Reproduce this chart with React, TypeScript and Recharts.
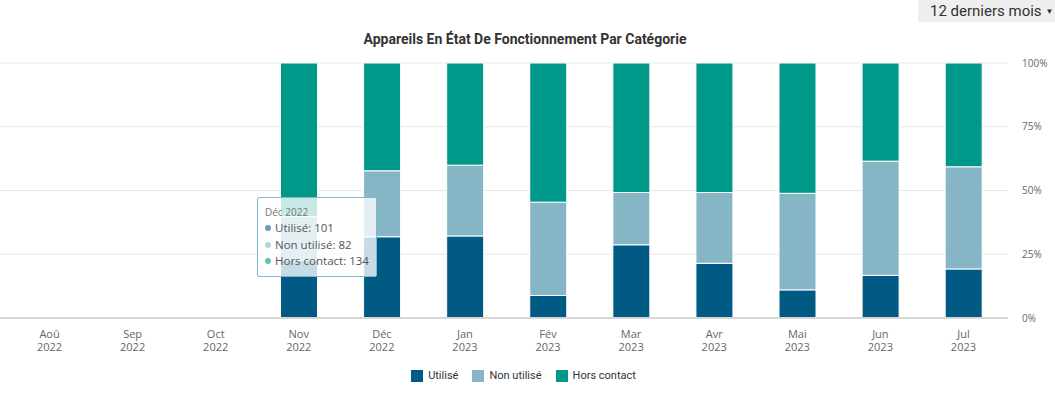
import { BarChart, Bar, XAxis, YAxis, CartesianGrid, Tooltip, Legend } from 'recharts'

const months = ['Aoû', 'Sep', 'Oct', 'Nov', 'Déc', 'Jan', 'Fév', 'Mar', 'Avr', 'Mai', 'Jun', 'Jul']
const years = ['2022', '2022', '2022', '2022', '2022', '2023', '2023', '2023', '2023', '2023', '2023', '2023']
const utilise = [null, null, null, 72, 101, 102, 28, 91, 68, 35, 53, 61]
const nonUtilise = [null, null, null, 54, 82, 88, 116, 65, 88, 120, 142, 127]
const horsContact = [null, null, null, 191, 134, 127, 173, 161, 161, 162, 122, 129]
const yTicks = [0, 0.25, 0.5, 0.75, 1]

const series = [
  { key: 'utilise', name: 'Utilisé', color: '#005a84' },
  { key: 'nonUtilise', name: 'Non utilisé', color: '#86b6c6' },
  { key: 'horsContact', name: 'Hors contact', color: '#009888' },
]

const data = months.map((m, i) => ({
  month: m,
  year: years[i],
  utilise: utilise[i],
  nonUtilise: nonUtilise[i],
  horsContact: horsContact[i],
}))

const axisFont = '"Open Sans", sans-serif'

const MonthTick = ({ x, y, payload }: any) => {
  const row = data[payload.index] || { month: payload.value, year: '' }
  return (
    <text x={x} y={y} textAnchor="middle" fill="#666" fontSize={11} fontFamily={axisFont}>
      <tspan x={x} dy={12}>{row.month}</tspan>
      <tspan x={x} dy={13}>{row.year}</tspan>
    </text>
  )
}

const CustomTooltip = ({ payload }: any) => {
  if (!payload || !payload.length) return null
  const row = payload[0].payload
  return (
    <div style={{
      width: 120,
      height: 80,
      boxSizing: 'border-box',
      background: 'rgba(255, 255, 255, 0.78)',
      border: '1px solid #7cb8cf',
      borderRadius: 2,
      padding: '7px 0 0 7px',
      fontFamily: axisFont,
      color: '#555',
      whiteSpace: 'nowrap',
    }}>
      <div style={{ fontSize: 10, lineHeight: '14px', color: '#777', marginBottom: 1 }}>{row.month} {row.year}</div>
      {series.map((s) => (
        <div key={s.key} style={{ fontSize: 11.5, lineHeight: '16.5px', display: 'flex', alignItems: 'center' }}>
          <span style={{ width: 6, height: 6, borderRadius: '50%', background: s.color, opacity: 0.6, marginRight: 4, flex: 'none' }} />
          {s.name}: {row[s.key]}
        </div>
      ))}
    </div>
  )
}

const LegendContent = () => (
  <div style={{ display: 'flex', justifyContent: 'center', gap: 14, fontFamily: 'Roboto, sans-serif', fontSize: 11, color: '#333', marginLeft: -8 }}>
    {series.map((s) => (
      <span key={s.key} style={{ display: 'flex', alignItems: 'center' }}>
        <span style={{ width: 12, height: 12, background: s.color, marginRight: 5, display: 'inline-block' }} />
        {s.name}
      </span>
    ))}
  </div>
)

export default function App() {
  return (
    <div style={{ position: 'absolute', left: 0, top: 0, width: 1055, height: 401, background: '#fff' }}>
      <div style={{
        position: 'absolute', right: 0, top: 0, width: 137, height: 22,
        background: '#efefef', fontFamily: 'Roboto, sans-serif', fontSize: 15, color: '#333',
        display: 'flex', alignItems: 'center', paddingLeft: 12, boxSizing: 'border-box', whiteSpace: 'nowrap',
      }}>
        12 derniers mois <span style={{ fontSize: 8, marginLeft: 4 }}>▼</span>
      </div>
      <div style={{
        position: 'absolute', left: 0, top: 31, width: 1050, textAlign: 'center',
        fontFamily: 'Roboto, sans-serif', fontSize: 14, fontWeight: 700, color: '#333',
      }}>
        Appareils En État De Fonctionnement Par Catégorie
      </div>
      <BarChart
        width={1055}
        height={401}
        data={data}
        stackOffset="expand"
        barCategoryGap="28%"
        margin={{ top: 63, right: 0, left: 0, bottom: 43 }}
      >
        <CartesianGrid horizontal vertical={false} stroke="#e6e6e6" />
        <XAxis
          dataKey="month"
          tick={<MonthTick />}
          tickLine={false}
          axisLine={{ stroke: '#d6d6d6', strokeWidth: 2 }}
          interval={0}
          height={40}
          padding={{ left: 8, right: 3 }}
        />
        <YAxis
          orientation="right"
          width={47}
          domain={[0, 1]}
          ticks={yTicks}
          tickFormatter={(v: number) => `${Math.round(v * 100)}%`}
          tick={{ fill: '#666', fontSize: 10, fontFamily: axisFont, textAnchor: 'start' }}
          tickLine={false}
          tickSize={0}
          tickMargin={14}
          axisLine={false}
        />
        <Tooltip
          defaultIndex={4}
          active
          cursor={false}
          position={{ x: 257, y: 197 }}
          content={<CustomTooltip />}
          isAnimationActive={false}
        />
        <Legend verticalAlign="middle" align="center" content={<LegendContent />} wrapperStyle={{ top: 369, left: 0, width: 1055 }} />
        {series.map((s) => (
          <Bar key={s.key} dataKey={s.key} name={s.name} stackId="a" fill={s.color} stroke="#fff" strokeWidth={1} isAnimationActive={false} />
        ))}
      </BarChart>
    </div>
  )
}
